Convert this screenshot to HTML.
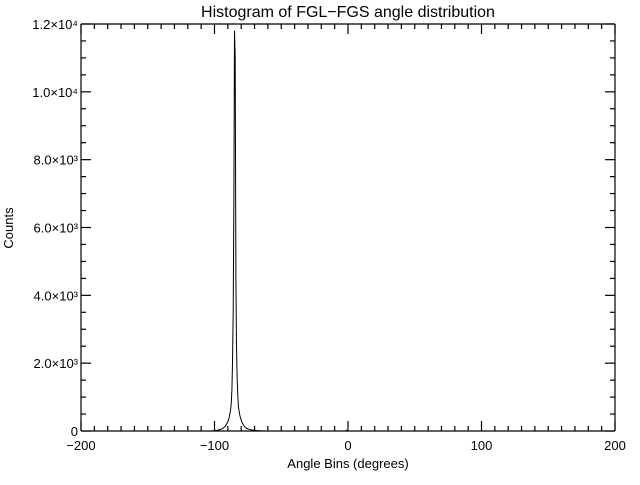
<!DOCTYPE html>
<html><head><meta charset="utf-8"><style>
body{margin:0;background:#fff}
svg text{font-family:"Liberation Sans",sans-serif;fill:#000}
</style></head><body>
<svg id="chart" width="640" height="480" xmlns="http://www.w3.org/2000/svg">
<rect width="640" height="480" fill="#fff"/>
<text x="348" y="17" font-size="16" text-anchor="middle">Histogram of FGL−FGS angle distribution</text>
<text x="348" y="468" font-size="13" text-anchor="middle">Angle Bins (degrees)</text>
<text transform="translate(13,228) rotate(-90)" font-size="13" text-anchor="middle">Counts</text>
<g id="axes"></g>
<path id="series" fill="none" stroke="#000" stroke-width="1"/>
</svg>
<script>
const angles=[-101,-98,-96,-94,-93,-92,-91,-90,-89,-88,-87.5,-87,-86.5,-86,-85.5,-85,-84.5,-84,-83.5,-83,-82.5,-82,-81,-80,-79,-78,-77,-76,-74,-72,-70,-68,-66,-64,-2,-1,0,1];
const counts=[5,20,40,70,100,140,200,280,400,600,800,1200,2000,3500,7000,11800,11000,4500,2500,1500,1000,700,450,320,220,160,110,80,50,30,20,10,5,2,0,25,0,0];
const xTicks=[-200,-100,0,100,200];
const yTicks=[0,2000,4000,6000,8000,10000,12000];
const yTickLabels=["0","2.0×10³","4.0×10³","6.0×10³","8.0×10³","1.0×10⁴","1.2×10⁴"];
const L=81,R=615,T=24,B=431,xmin=-200,xmax=200,ymax=12000;
const sx=v=>L+(v-xmin)/(xmax-xmin)*(R-L);
const sy=v=>B-v/ymax*(B-T);
const NS="http://www.w3.org/2000/svg";
const ax=document.getElementById('axes');
function ln(x1,y1,x2,y2,name){const e=document.createElementNS(NS,'line');
e.setAttribute('x1',x1);e.setAttribute('y1',y1);e.setAttribute('x2',x2);e.setAttribute('y2',y2);
e.setAttribute('stroke','#000');e.setAttribute('stroke-width','1.2');


ax.appendChild(e);}
function tx(x,y,s,anchor,name){const e=document.createElementNS(NS,'text');
e.setAttribute('x',x);e.setAttribute('y',y);e.setAttribute('font-size','13');e.setAttribute('text-anchor',anchor);e.textContent=s;


ax.appendChild(e);}
ln(L,T,R,T,'plot-frame-top');ln(L,B,R,B,'plot-frame-bottom');ln(L,T,L,B,'plot-frame-left');ln(R,T,R,B,'plot-frame-right');
for(let v=xmin;v<=xmax;v+=10){const major=v%100===0;const l=major?10:5;const x=sx(v);
ln(x,B,x,B-l,'x-tick');ln(x,T,x,T+l,'x-tick-top');}
xTicks.forEach(v=>tx(sx(v),450,v<0?'−'+(-v):String(v),'middle','x-tick-label'));
for(let v=0;v<=ymax;v+=500){const major=v%2000===0;const l=major?10:5;const y=sy(v);
ln(L,y,L+l,y,'y-tick');ln(R,y,R-l,y,'y-tick-right');}
yTicks.forEach((v,i)=>tx(L-3,sy(v)+5,yTickLabels[i],'end','y-tick-label'));
let d='';angles.forEach((a,i)=>{d+=(i?'L':'M')+sx(a).toFixed(1)+','+sy(counts[i]).toFixed(1);});
document.getElementById('series').setAttribute('d',d);
</script>
</body></html>
